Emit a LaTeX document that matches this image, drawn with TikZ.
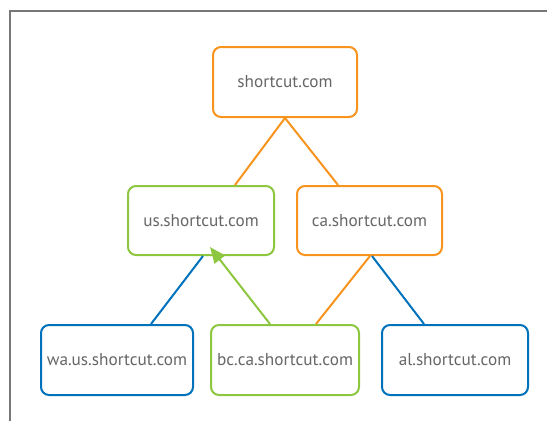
\documentclass[tikz,border=0pt]{standalone}
\usepackage{fontspec}
\setmainfont{PT Sans}
\usetikzlibrary{arrows.meta}
\definecolor{dnsorange}{HTML}{F7941D}
\definecolor{dnsgreen}{HTML}{8DC63F}
\definecolor{dnsblue}{HTML}{0072BC}
\definecolor{dnstext}{HTML}{666666}
\definecolor{framegray}{HTML}{777777}
\tikzset{
  zonebox/.style={draw, rounded corners=8pt, line width=2pt, fill=white,
    text=dnstext, font=\fontsize{17.2}{20}\selectfont, inner sep=0pt,
    minimum height=70pt},
  orangebox/.style={zonebox, draw=dnsorange},
  greenbox/.style={zonebox, draw=dnsgreen},
  bluebox/.style={zonebox, draw=dnsblue},
  link/.style={line width=2pt},
}
\begin{document}
\begin{tikzpicture}[x=1pt, y=-1pt]
  \useasboundingbox (0,0) rectangle (547,421);
  % open frame along the top and left edges
  \draw[framegray, line width=2pt] (547,11) -- (10,11) -- (10,421);

  % zone nodes
  \node[orangebox, minimum width=144pt] (root) at (285,82) {shortcut.com};
  \node[greenbox,  minimum width=146pt, minimum height=69pt] (us) at (201,220.5) {\raisebox{-2pt}{us.shortcut.com}};
  \node[orangebox, minimum width=145pt, minimum height=69pt] (ca) at (369.5,220.5) {\raisebox{-2pt}{ca.shortcut.com}};
  \node[bluebox,   minimum width=152pt] (wa) at (117,360) {wa.us.shortcut.com};
  \node[greenbox,  minimum width=148pt] (bc) at (285,360) {bc.ca.shortcut.com};
  \node[bluebox,   minimum width=146pt] (al) at (455,360) {al.shortcut.com};

  % delegation links
  \draw[link, dnsorange] (root.south) -- ([xshift=34pt]us.north);
  \draw[link, dnsorange] (root.south) -- ([xshift=-31.5pt]ca.north);
  \draw[link, dnsblue] ([xshift=2pt]us.south) -- ([xshift=34pt]wa.north);
  \draw[link, dnsorange] ([xshift=0.5pt]ca.south) -- ([xshift=31pt]bc.north);
  \draw[link, dnsblue] ([xshift=2.5pt]ca.south) -- ([xshift=-31pt]al.north);
  \draw[link, dnsgreen, -{Triangle[length=16pt, width=13pt]}]
    ([xshift=-15pt]bc.north) -- ([xshift=9pt, yshift=9pt]us.south);
\end{tikzpicture}
\end{document}
